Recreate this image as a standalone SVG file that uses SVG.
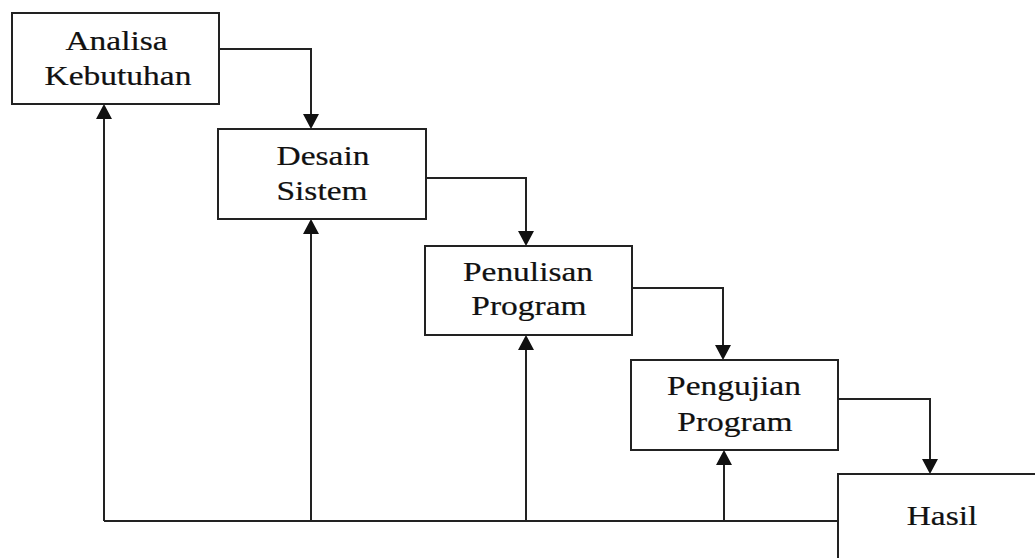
<svg xmlns="http://www.w3.org/2000/svg" width="1035" height="558" viewBox="0 0 1035 558">
<style>
.box{fill:#fff;stroke:#222;stroke-width:2}
.lbl{font-family:"Liberation Serif","Times New Roman",serif;font-size:27px;fill:#111;stroke:#111;stroke-width:0.2;text-anchor:middle}
.con{fill:none;stroke:#222;stroke-width:2}
</style>
<defs>
<marker id="ah" viewBox="0 0 15 16" refX="4" refY="8" markerWidth="15" markerHeight="16" markerUnits="userSpaceOnUse" orient="auto">
<path d="M0,0 L15,8 L0,16 z" fill="#111"/>
</marker>
</defs>
<rect width="1035" height="558" fill="#fff"/>
<g id="connectors">
<path class="con" d="M219,49 H311 V118" marker-end="url(#ah)"/>
<path class="con" d="M426,178 H526 V235" marker-end="url(#ah)"/>
<path class="con" d="M632,288 H723 V349" marker-end="url(#ah)"/>
<path class="con" d="M838,399 H930 V463" marker-end="url(#ah)"/>
<path class="con" d="M104,521 H838"/>
<path class="con" d="M104,521 V115" marker-end="url(#ah)"/>
<path class="con" d="M311,521 V230" marker-end="url(#ah)"/>
<path class="con" d="M526,521 V346" marker-end="url(#ah)"/>
<path class="con" d="M724,521 V461" marker-end="url(#ah)"/>
</g>
<g id="analisa">
<rect class="box" x="12" y="13" width="207" height="91"/>
<text class="lbl" transform="translate(116.5,50) scale(1.24,1)">Analisa</text>
<text class="lbl" transform="translate(118,85) scale(1.24,1)">Kebutuhan</text>
</g>
<g id="desain">
<rect class="box" x="218" y="129" width="208" height="90"/>
<text class="lbl" transform="translate(323,165) scale(1.24,1)">Desain</text>
<text class="lbl" transform="translate(322,200) scale(1.24,1)">Sistem</text>
</g>
<g id="penulisan">
<rect class="box" x="425" y="246" width="207" height="89"/>
<text class="lbl" transform="translate(528,281) scale(1.24,1)">Penulisan</text>
<text class="lbl" transform="translate(529,315) scale(1.24,1)">Program</text>
</g>
<g id="pengujian">
<rect class="box" x="631" y="360" width="207" height="90"/>
<text class="lbl" transform="translate(734,395) scale(1.24,1)">Pengujian</text>
<text class="lbl" transform="translate(735,431) scale(1.24,1)">Program</text>
</g>
<g id="hasil">
<rect class="box" x="838" y="474" width="220" height="120"/>
<text class="lbl" transform="translate(942,525) scale(1.24,1)">Hasil</text>
</g>
</svg>
